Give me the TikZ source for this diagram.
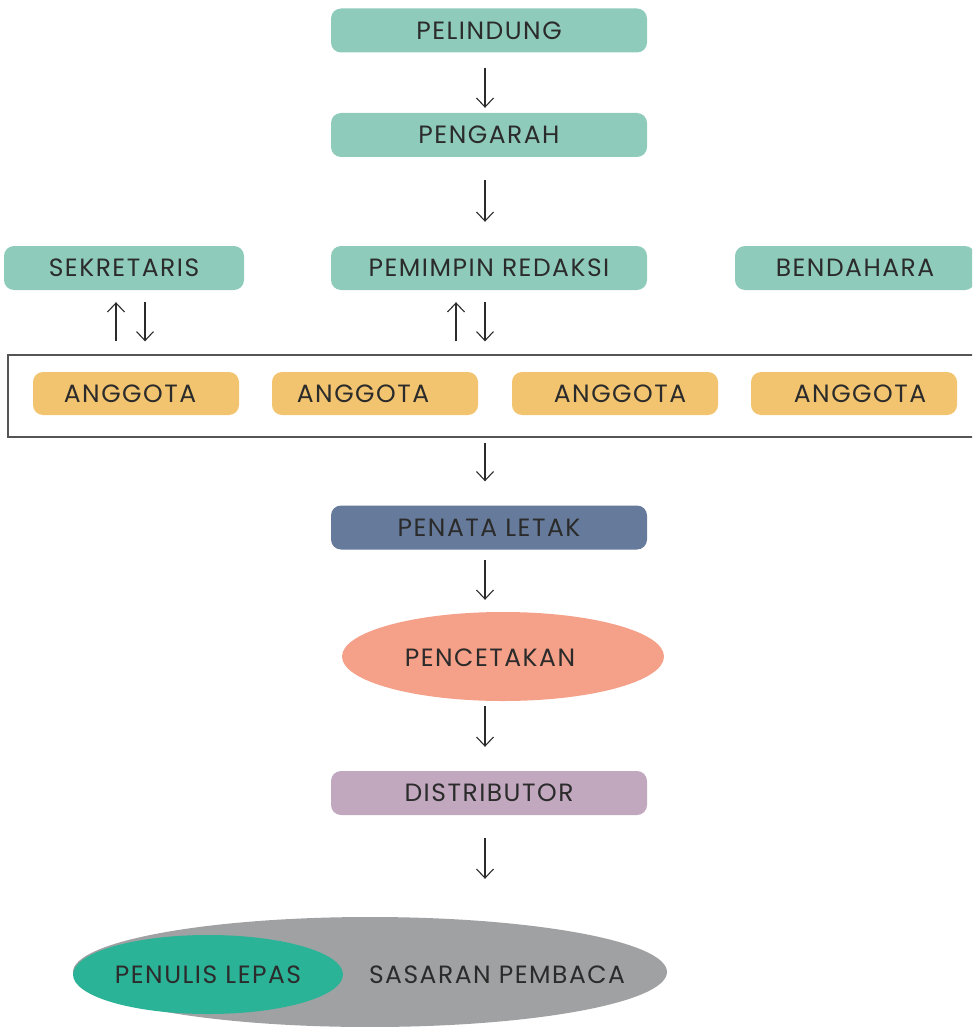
\documentclass[tikz,border=0pt]{standalone}
\usepackage{fontspec}
\setmainfont{Poppins}[LetterSpace=6]
\usetikzlibrary{arrows.meta,shapes.geometric}
\definecolor{teal}{HTML}{8FCBBB}
\definecolor{yel}{HTML}{F2C46F}
\definecolor{navy}{HTML}{667B9B}
\definecolor{salmon}{HTML}{F5A088}
\definecolor{lilac}{HTML}{C1A8BF}
\definecolor{grayel}{HTML}{A0A1A3}
\definecolor{green}{HTML}{2BB398}
\definecolor{ink}{HTML}{2B2B2B}
\definecolor{frame}{HTML}{555555}
\begin{document}
\begin{tikzpicture}[x=1pt,y=-1pt,
  every node/.style={font=\fontsize{25}{28}\selectfont, text=ink},
  pill/.style={rounded corners=10pt, minimum width=316pt, minimum height=44pt, inner sep=0pt},
  tbox/.style={pill, fill=teal},
  abox/.style={rounded corners=10pt, minimum width=206pt, minimum height=43pt, inner sep=0pt, fill=yel},
  arr/.style={draw=ink, line width=1.1pt, -{Straight Barb[length=9pt,width=17pt]}},
  lbl/.style={font=\fontsize{25}{28}\selectfont, text=ink}
]
\useasboundingbox (0,0) rectangle (972,1027);
\clip (0,0) rectangle (972,1027);
% top chain
\node[tbox] (pel) at (489,30.5) {PELINDUNG};
\node[tbox] (pga) at (489,135) {PENGARAH};
\node[tbox] (pr) at (489,268) {PEMIMPIN REDAKSI};
\node[tbox, minimum width=240pt] (sek) at (124,268) {SEKRETARIS};
\node[tbox, minimum width=240pt] (ben) at (855,268) {BENDAHARA};
% frame with members
\node[draw=frame, line width=1.3pt, minimum width=980pt, minimum height=82pt, inner sep=0pt] (grp) at (498,396) {};
\node[abox, label={[lbl,xshift=-6pt]center:ANGGOTA}] (a1) at (136,393.5) {};
\node[abox, label={[lbl,xshift=-12pt]center:ANGGOTA}] (a2) at (375,393.5) {};
\node[abox, label={[lbl,xshift=5pt]center:ANGGOTA}] (a3) at (615,393.5) {};
\node[abox, label={[lbl,xshift=6pt]center:ANGGOTA}] (a4) at (854,393.5) {};
% lower chain
\node[pill, fill=navy] (pnt) at (489,527.5) {PENATA LETAK};
\node[ellipse, fill=salmon, minimum width=322pt, minimum height=89pt, inner sep=0pt] (pct) at (503,656.5) {};
\node[lbl] (pcttxt) at (490,658) {PENCETAKAN};
\node[pill, fill=lilac] (dist) at (489,793) {DISTRIBUTOR};
\node[ellipse, fill=grayel, minimum width=594pt, minimum height=110pt, inner sep=0pt] (sas) at (370,972) {};
\node[lbl] (sastxt) at (497,975) {SASARAN PEMBACA};
\node[ellipse, fill=green, minimum width=270pt, minimum height=79pt, inner sep=0pt] (pen) at (208,974.5) {PENULIS LEPAS};
% connectors
\draw[arr, shorten <=15pt, shorten >=5pt] ([xshift=-4pt]pel.south) -- ([xshift=-4pt]pga.north);
\draw[arr, shorten <=23pt, shorten >=24pt] ([xshift=-4pt]pga.south) -- ([xshift=-4pt]pr.north);
\draw[arr, shorten <=13pt, shorten >=12pt] (sek.south -| 116,0) coordinate (s1) ++(0,0) (grp.north -| s1) -- (s1);
\draw[arr, shorten <=12pt, shorten >=13pt] (sek.south -| 145,0) coordinate (s2) -- (grp.north -| s2);
\draw[arr, shorten <=13pt, shorten >=12pt] (pr.south -| 456,0) coordinate (p1) ++(0,0) (grp.north -| p1) -- (p1);
\draw[arr, shorten <=12pt, shorten >=13pt] ([xshift=-4pt]pr.south) -- ([xshift=-4pt]pr.south |- grp.north);
\draw[arr, shorten <=5pt, shorten >=24pt] ([xshift=-4pt]pnt.north |- grp.south) -- ([xshift=-4pt]pnt.north);
\draw[arr, shorten <=10pt, shorten >=12pt] ([xshift=-4pt]pnt.south) -- ([xshift=-4pt]pnt.south |- pct.north);
\draw[arr, shorten <=5pt, shorten >=24pt] ([xshift=-4pt]dist.north |- pct.south) -- ([xshift=-4pt]dist.north);
\draw[arr, shorten <=23pt, shorten >=38pt] ([xshift=-4pt]dist.south) -- ([xshift=-4pt]dist.south |- sas.north);
\end{tikzpicture}
\end{document}
